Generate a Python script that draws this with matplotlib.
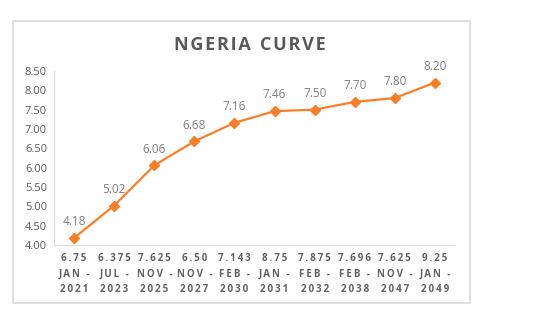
import matplotlib
matplotlib.use("Agg")
import matplotlib.pyplot as plt
from matplotlib.patches import Rectangle

# datos del gráfico
cupones = ["6.75", "6.375", "7.625", "6.50", "7.143", "8.75", "7.875", "7.696", "7.625", "9.25"]
meses = ["JAN", "JUL", "NOV", "NOV", "FEB", "JAN", "FEB", "FEB", "NOV", "JAN"]
anios = ["2021", "2023", "2025", "2027", "2030", "2031", "2032", "2038", "2047", "2049"]
rendimientos = [4.18, 5.02, 6.06, 6.68, 7.16, 7.46, 7.50, 7.70, 7.80, 8.20]
y_ticks = [4.00, 4.50, 5.00, 5.50, 6.00, 6.50, 7.00, 7.50, 8.00, 8.50]

naranja = "#FA7D28"
gris = "#595959"
plt.rcParams['font.family'] = ['Open Sans', 'DejaVu Sans']

# espaciado entre letras con espacios finos
def espaciar(texto, sep="\u2009"):
    return sep.join(texto)

etiquetas = [espaciar(c) + "\n" + espaciar(m + " -") + "\n" + espaciar(a)
             for c, m, a in zip(cupones, meses, anios)]

fig = plt.figure(figsize=(5.45, 3.24), dpi=100)
ax = fig.add_axes([0.0991, 0.2438, 0.7358, 0.5372])

x = list(range(len(rendimientos)))
ax.plot(x, rendimientos, color=naranja, linewidth=1.6, marker="D", markersize=5)

for xi, v in zip(x, rendimientos):
    ax.annotate(f"{v:.2f}", (xi, v), xytext=(0, 7), textcoords="offset points",
                ha="center", va="bottom", fontsize=8.5, color="#7F7F7F")

ax.set_xlim(-0.5, len(x) - 0.5)
ax.set_ylim(4.0, 8.5)
ax.set_yticks(y_ticks)
ax.set_yticklabels([f"{t:.2f}" for t in y_ticks], fontsize=8, color=gris)
ax.set_xticks(x)
ax.set_xticklabels(etiquetas, fontsize=7, color="#606060", fontweight="bold", linespacing=1.55)
ax.tick_params(length=0, pad=6)
ax.tick_params(axis="y", pad=5)

for lado in ["top", "right"]:
    ax.spines[lado].set_visible(False)
for lado in ["left", "bottom"]:
    ax.spines[lado].set_color("#D9D9D9")
    ax.spines[lado].set_linewidth(0.8)

fig.text(250 / 545, 1 - 44.5 / 324, espaciar("NGERIA", "\u200a") + "  " + espaciar("CURVE", "\u200a"),
         ha="center", va="center", fontsize=13, fontweight="bold", color=gris)

# marco del gráfico
fig.patches.append(Rectangle((13 / 545, 1 - 303 / 324), 457 / 545, 282 / 324,
                             transform=fig.transFigure, fill=False,
                             edgecolor="#D9D9D9", linewidth=1.2))

fig.savefig("out.png", dpi=100)
